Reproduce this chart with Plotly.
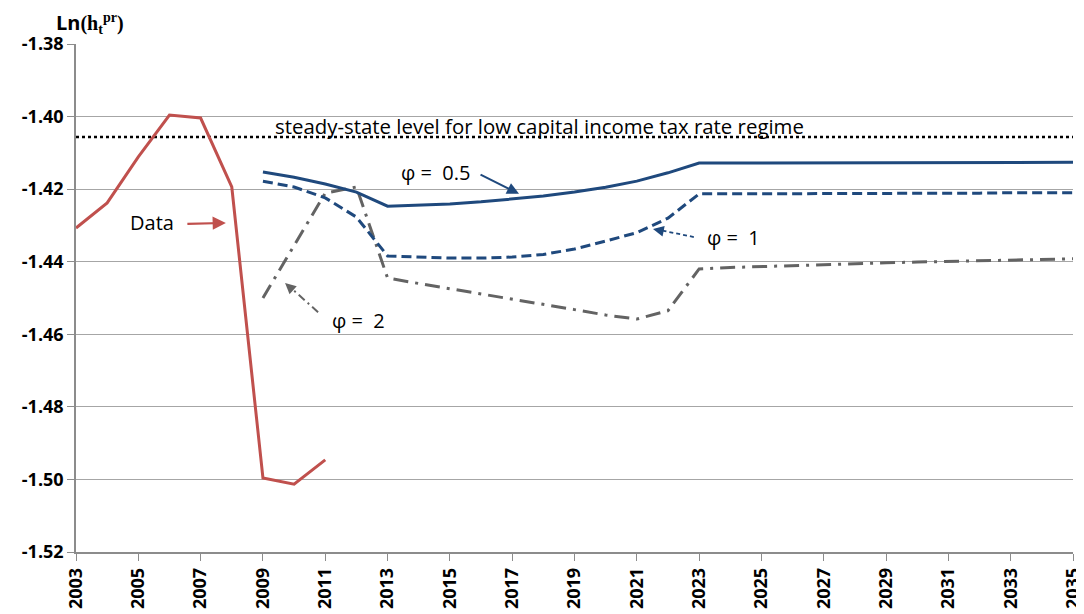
import plotly.graph_objects as go

years_data = [2003, 2004, 2005, 2006, 2007, 2008, 2009, 2010, 2011]
data_vals = [-1.4307, -1.4238, -1.4111, -1.3996, -1.4004, -1.4194, -1.4996, -1.5013, -1.4946]

years_model = list(range(2009, 2036))
phi05 = [-1.4153, -1.4167, -1.4186, -1.4208, -1.4247, -1.4245, -1.4241, -1.4235, -1.4228,
         -1.4219, -1.4208, -1.4195, -1.4178, -1.4155, -1.4128, -1.4128, -1.4128, -1.4128,
         -1.4127, -1.4127, -1.4127, -1.4127, -1.4127, -1.4127, -1.4127, -1.4126, -1.4126]
phi1 = [-1.4178, -1.4194, -1.4224, -1.4277, -1.4384, -1.4388, -1.4390, -1.4390, -1.4387,
        -1.4380, -1.4365, -1.4343, -1.4320, -1.4280, -1.4213, -1.4213, -1.4213, -1.4212,
        -1.4212, -1.4212, -1.4211, -1.4211, -1.4211, -1.4211, -1.4210, -1.4210, -1.4210]
phi2 = [-1.4500, -1.4356, -1.4211, -1.4194, -1.4445, -1.4460, -1.4474, -1.4489, -1.4503,
        -1.4518, -1.4532, -1.4547, -1.4558, -1.4535, -1.4420, -1.4416, -1.4413, -1.4410,
        -1.4408, -1.4405, -1.4403, -1.4401, -1.4399, -1.4397, -1.4395, -1.4393, -1.4392]

steady_x = [2003, 2035]
steady_level = -1.4056

x_ticks = list(range(2003, 2036, 2))
y_ticks = [-1.38, -1.40, -1.42, -1.44, -1.46, -1.48, -1.50, -1.52]

RED = "#C0504D"
BLUE = "#1F497D"
GRAY = "#636363"
FONT = "Open Sans"

fig = go.Figure()
fig.add_trace(go.Scatter(x=steady_x, y=[steady_level, steady_level], mode="lines",
                         line=dict(color="black", width=2.5, dash="dot"), showlegend=False))
fig.add_trace(go.Scatter(x=years_data, y=data_vals, mode="lines",
                         line=dict(color=RED, width=3), showlegend=False))
fig.add_trace(go.Scatter(x=years_model, y=phi2, mode="lines",
                         line=dict(color=GRAY, width=3, dash="15px,7px,3px,7px"), showlegend=False))
fig.add_trace(go.Scatter(x=years_model, y=phi1, mode="lines",
                         line=dict(color=BLUE, width=3, dash="10px,5px"), showlegend=False))
fig.add_trace(go.Scatter(x=years_model, y=phi05, mode="lines",
                         line=dict(color=BLUE, width=3), showlegend=False))

# dashed shaft for phi=1 arrow
fig.add_trace(go.Scatter(x=[2022.83, 2021.75], y=[-1.4332, -1.4313], mode="lines",
                         line=dict(color=BLUE, width=1.8, dash="4px,3px"), showlegend=False))
# dash-dot shaft for phi=2 arrow
fig.add_trace(go.Scatter(x=[2010.77, 2009.95], y=[-1.4539, -1.4476], mode="lines",
                         line=dict(color=GRAY, width=2, dash="8px,4px,2px,4px"), showlegend=False))

annotations = [
    dict(x=2009.32, y=-1.4026, xref="x", yref="y", text="steady-state level for low capital income tax rate regime",
         showarrow=False, xanchor="left", yanchor="middle",
         font=dict(family=FONT, size=20.4, color="black")),
    dict(x=2017.22, y=-1.4213, xref="x", yref="y", text="", showarrow=True, arrowhead=2, arrowsize=1.2,
         arrowwidth=2, arrowcolor=BLUE, ax=-40, ay=-20),
    dict(x=2014.55, y=-1.4153, xref="x", yref="y", text="φ =  0.5", showarrow=False,
         font=dict(family=FONT, size=20, color="black")),
    dict(x=2021.52, y=-1.4310, xref="x", yref="y", text="", showarrow=True, arrowhead=2, arrowsize=1.2,
         arrowwidth=1.8, arrowcolor=BLUE, ax=10, ay=2),
    dict(x=2024.10, y=-1.4332, xref="x", yref="y", text="φ =  1", showarrow=False,
         font=dict(family=FONT, size=20, color="black")),
    dict(x=2009.71, y=-1.4459, xref="x", yref="y", text="", showarrow=True, arrowhead=2, arrowsize=1.2,
         arrowwidth=1.8, arrowcolor=GRAY, ax=9, ay=8),
    dict(x=2012.07, y=-1.4561, xref="x", yref="y", text="φ =  2", showarrow=False,
         font=dict(family=FONT, size=20, color="black")),
    dict(x=2007.81, y=-1.4293, xref="x", yref="y", text="", showarrow=True, arrowhead=2, arrowsize=1.2,
         arrowwidth=2.2, arrowcolor=RED, ax=-40, ay=1),
    dict(x=2005.44, y=-1.4293, xref="x", yref="y", text="Data", showarrow=False,
         font=dict(family=FONT, size=20, color="black")),
    dict(x=0.0145, y=1.0, xref="paper", yref="paper", xanchor="center", yanchor="middle", yshift=21,
         text='<b>Ln<span style="font-family:serif">(h<sub>t</sub><sup>pr</sup>)</span></b>',
         showarrow=False, font=dict(family=FONT, size=20, color="black")),
]

fig.update_layout(
    width=1076, height=606,
    margin=dict(l=68, r=11, t=36, b=62, autoexpand=False),
    paper_bgcolor="white", plot_bgcolor="white",
    annotations=annotations,
    font=dict(family=FONT, color="black"),
)
fig.update_xaxes(range=[2003, 2035], tickvals=x_ticks, ticktext=[f"<b>{v}</b>" for v in x_ticks],
                 tickangle=-90, ticks="outside", ticklen=7, tickcolor="#8c8c8c",
                 showline=True, linecolor="#8c8c8c", linewidth=1.5, showgrid=False, zeroline=False,
                 automargin=False, ticklabeloverflow="allow",
                 tickfont=dict(family=FONT, size=18, color="black"))
fig.update_yaxes(range=[-1.52, -1.38], tickvals=y_ticks, ticktext=[f"<b>{v:.2f}</b>" for v in y_ticks],
                 ticks="outside", ticklen=7, tickcolor="#8c8c8c",
                 showline=True, linecolor="#8c8c8c", linewidth=1.5,
                 showgrid=True, gridcolor="#a6a6a6", gridwidth=1, zeroline=False,
                 automargin=False, ticklabeloverflow="allow",
                 tickfont=dict(family=FONT, size=18, color="black"))

fig.write_html("out.html")
